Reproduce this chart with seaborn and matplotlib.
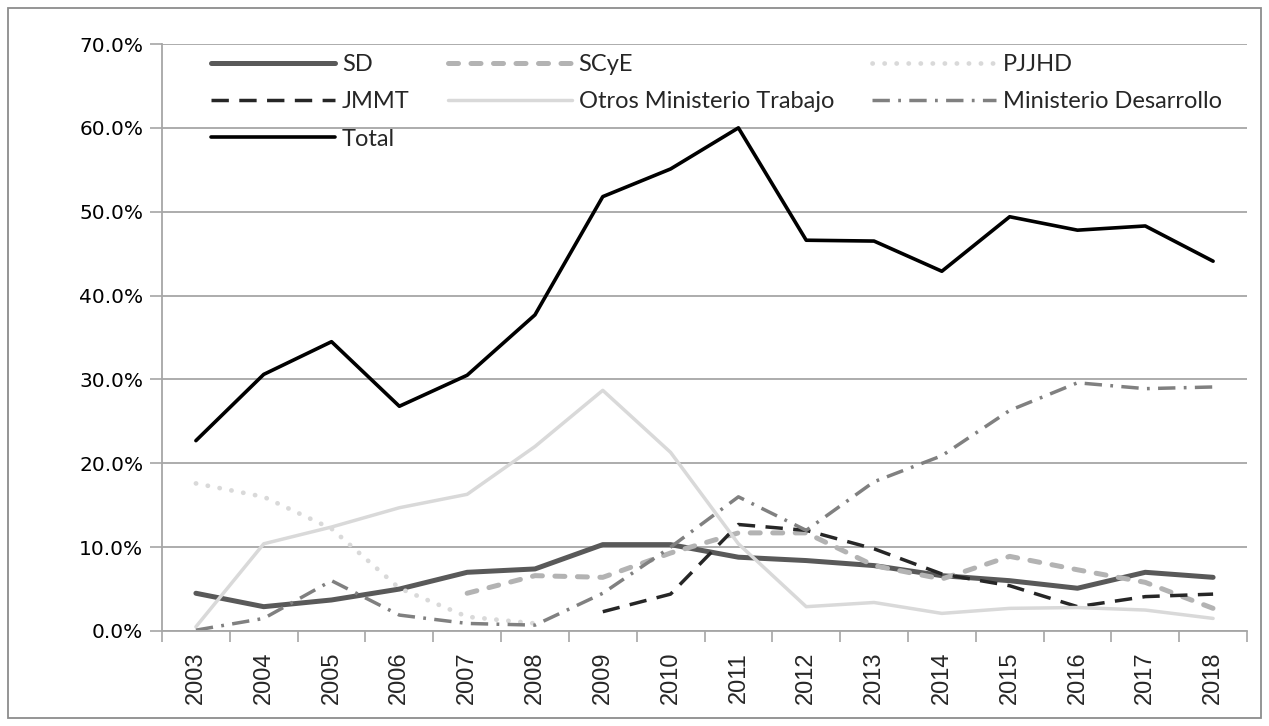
import numpy as np
import pandas as pd
import matplotlib
matplotlib.use("Agg")
import matplotlib.pyplot as plt
import seaborn as sns
from matplotlib.ticker import FuncFormatter, FixedLocator
from matplotlib.patches import Rectangle

nan = np.nan
years = [str(y) for y in range(2003, 2019)]
sd = [4.5, 2.9, 3.7, 5.0, 7.0, 7.4, 10.3, 10.3, 8.8, 8.4, 7.8, 6.6, 6.0, 5.1, 7.0, 6.4]
scye = [nan, nan, nan, nan, 4.5, 6.6, 6.4, 9.3, 11.7, 11.7, 7.8, 6.2, 8.9, 7.3, 5.8, 2.7]
pjjhd = [17.6, 16.0, 12.2, 5.1, 1.7, 0.9, nan, nan, nan, nan, nan, nan, nan, nan, nan, nan]
jmmt = [nan, nan, nan, nan, nan, nan, 2.3, 4.4, 12.7, 12.0, 9.8, 6.8, 5.4, 2.9, 4.1, 4.4]
otros = [0.5, 10.4, 12.4, 14.7, 16.3, 22.0, 28.7, 21.3, 10.4, 2.9, 3.4, 2.1, 2.7, 2.8, 2.5, 1.5]
mdes = [0.1, 1.5, 6.0, 1.9, 0.9, 0.7, 4.5, 10.0, 16.0, 12.0, 17.8, 20.9, 26.3, 29.6, 28.9, 29.1]
total = [22.7, 30.6, 34.5, 26.8, 30.5, 37.7, 51.8, 55.1, 60.0, 46.6, 46.5, 42.9, 49.4, 47.8, 48.3, 44.1]

series_names = ["SD", "SCyE", "PJJHD", "JMMT", "Otros Ministerio Trabajo",
                "Ministerio Desarrollo", "Total"]
series_values = [sd, scye, pjjhd, jmmt, otros, mdes, total]

sns.set_style("white")
plt.rcParams['font.family'] = ['DejaVu Sans']

W, H = 1269, 726
fig = plt.figure(figsize=(W / 100, H / 100), dpi=100)
ax = fig.add_axes([162 / W, 1 - 631 / H, (1247 - 162) / W, (631 - 44) / H])

styles = {
    "SD": dict(color="#595959", lw=3.6, linestyle="-", solid_capstyle="round"),
    "SCyE": dict(color="#b3b3b3", lw=3.6, linestyle=(0, (2.0, 2.5)), dash_capstyle="round"),
    "PJJHD": dict(color="#d9d9d9", lw=3.4, linestyle=(0, (0.05, 2.5)), dash_capstyle="round"),
    "JMMT": dict(color="#262626", lw=2.5, linestyle=(0, (5.0, 3.0)), dash_capstyle="butt"),
    "Otros Ministerio Trabajo": dict(color="#d9d9d9", lw=2.5, linestyle="-"),
    "Ministerio Desarrollo": dict(color="#808080", lw=2.5, linestyle=(0, (5.0, 2.4, 0.8, 2.4)), dash_capstyle="butt"),
    "Total": dict(color="#000000", lw=2.6, linestyle="-"),
}

xpos = np.arange(len(years))
for name, vals in zip(series_names, series_values):
    df = pd.DataFrame({"x": xpos, "y": np.array(vals, dtype=float) / 100.0}).dropna()
    st = styles[name]
    sns.lineplot(data=df, x="x", y="y", ax=ax, label=name, color=st["color"],
                 linewidth=st["lw"], linestyle=st["linestyle"],
                 **{k: v for k, v in st.items() if k.endswith("capstyle")},
                 solid_joinstyle="round")

ax.set_xlim(-0.5, len(years) - 0.5)
ax.set_ylim(0, 0.7)
ax.set_xlabel("")
ax.set_ylabel("")

# y axis
ax.set_yticks(np.arange(0, 0.71, 0.1))
ax.yaxis.set_major_formatter(FuncFormatter(lambda v, p: f"{v*100:.1f}%"))
ax.grid(axis="y", color="#a6a6a6", lw=1.3)
ax.grid(axis="x", visible=False)
ax.tick_params(axis="y", which="major", length=8.5, width=1.2, color="#a6a6a6",
               labelsize=14.5, pad=5, labelcolor="#000000", left=True)

# x axis: boundary ticks + centered labels
ax.xaxis.set_major_locator(FixedLocator(np.arange(-0.5, len(years), 1.0)))
ax.xaxis.set_minor_locator(FixedLocator(xpos))
ax.set_xticklabels([], minor=False)
ax.set_xticklabels(years, minor=True, rotation=90, fontsize=17,
                   fontfamily="Liberation Sans")
ax.tick_params(axis="x", which="major", length=8, width=1.2, color="#a6a6a6", bottom=True)
ax.tick_params(axis="x", which="minor", length=0, pad=15)

for s in ["top", "right"]:
    ax.spines[s].set_visible(False)
for s in ["left", "bottom"]:
    ax.spines[s].set_color("#a6a6a6")
    ax.spines[s].set_linewidth(1.3)

# legend (row-major order via column grouping)
handles, labels = ax.get_legend_handles_labels()
hmap = dict(zip(labels, handles))
order = ["SD", "JMMT", "Total", "SCyE", "Otros Ministerio Trabajo", "PJJHD", "Ministerio Desarrollo"]
leg = ax.legend([hmap[k] for k in order], order, ncol=3, frameon=False,
                loc="upper left", bbox_to_anchor=(211 / W, 1 - 54 / H),
                bbox_transform=fig.transFigure, borderpad=0, borderaxespad=0,
                handlelength=5.25, handletextpad=0.3, columnspacing=1.6,
                labelspacing=0.69, prop={"family": "Lato", "size": 17})

# outer border
fig.patches.append(Rectangle((8 / W, 8 / H), (W - 16) / W, (H - 16) / H,
                             transform=fig.transFigure, fill=False,
                             edgecolor="#8c8c8c", lw=1.3))

fig.savefig("out.png", dpi=100)
